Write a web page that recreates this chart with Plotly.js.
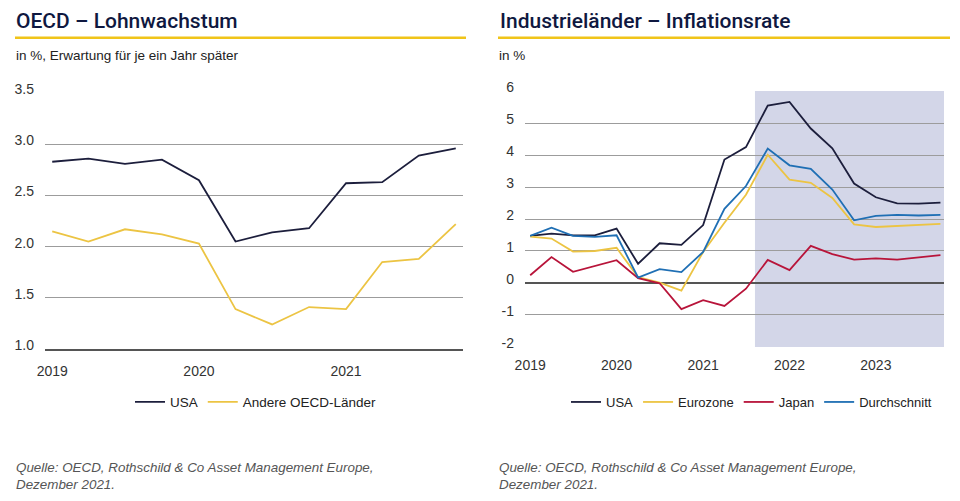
<!DOCTYPE html>
<html>
<head>
<meta charset="utf-8">
<script src="https://cdn.plot.ly/plotly-3.0.1.min.js"></script>
<style>html,body{margin:0;padding:0;background:#fff;}#chart{width:960px;height:501px;}</style>
</head>
<body>
<div id="chart"></div>
<script>
// ---- Left chart: OECD wage growth expectations (quarterly) ----
const wageQuarters = ['2019-01-01','2019-04-01','2019-07-01','2019-10-01',
                      '2020-01-01','2020-04-01','2020-07-01','2020-10-01',
                      '2021-01-01','2021-04-01','2021-07-01','2021-10-01'];
const wageUSA   = [2.83, 2.86, 2.81, 2.85, 2.65, 2.05, 2.14, 2.18, 2.62, 2.63, 2.89, 2.96];
const wageOther = [2.15, 2.05, 2.17, 2.12, 2.03, 1.39, 1.24, 1.41, 1.39, 1.85, 1.88, 2.22];
const wageYearTicks = ['2019-01-01','2020-01-01','2021-01-01'];
const wageYearLabels = ['2019','2020','2021'];

// ---- Right chart: inflation rate (quarterly, incl. projections) ----
const inflQuarters = ['2019-01-01','2019-04-01','2019-07-01','2019-10-01',
                      '2020-01-01','2020-04-01','2020-07-01','2020-10-01',
                      '2021-01-01','2021-04-01','2021-07-01','2021-10-01',
                      '2022-01-01','2022-04-01','2022-07-01','2022-10-01',
                      '2023-01-01','2023-04-01','2023-07-01','2023-10-01'];
const inflUSA   = [1.47, 1.54, 1.49, 1.49, 1.70, 0.60, 1.24, 1.19, 1.81, 3.86, 4.25, 5.55, 5.66, 4.83, 4.21, 3.11, 2.68, 2.49, 2.48, 2.51];
const inflEuro  = [1.45, 1.39, 0.98, 1.00, 1.10, 0.18, 0.01, -0.24, 0.97, 1.88, 2.76, 4.01, 3.23, 3.13, 2.66, 1.83, 1.75, 1.78, 1.81, 1.85];
const inflJapan = [0.24, 0.81, 0.35, 0.53, 0.71, 0.15, -0.01, -0.82, -0.54, -0.72, -0.18, 0.72, 0.40, 1.16, 0.90, 0.73, 0.77, 0.73, 0.80, 0.87];
const inflAvg   = [1.47, 1.73, 1.47, 1.44, 1.49, 0.17, 0.43, 0.34, 0.97, 2.32, 3.03, 4.20, 3.68, 3.57, 2.92, 1.96, 2.10, 2.13, 2.11, 2.13];
const inflYearTicks = ['2019-01-01','2020-01-01','2021-01-01','2022-01-01','2023-01-01'];
const inflYearLabels = ['2019','2020','2021','2022','2023'];
const inflTickVals = [-2, -1, 0, 1, 2, 3, 4, 5, 6];
const inflTickLabels = ['-2', '-1', '0', '1', '2', '3', '4', '5', '6'];
const forecastStart = '2021-08-08';

const NAVY = '#1c1e3c', YELLOW = '#ecc443', RED = '#b8143a', BLUE = '#1f6fb4';
const FONT = 'Liberation Sans, Arial, sans-serif';

const traces = [
  {x: wageQuarters, y: wageUSA, name: 'USA', type: 'scatter', mode: 'lines',
   line: {color: NAVY, width: 1.8}, xaxis: 'x', yaxis: 'y', legend: 'legend'},
  {x: wageQuarters, y: wageOther, name: 'Andere OECD-Länder', type: 'scatter', mode: 'lines',
   line: {color: YELLOW, width: 1.8}, xaxis: 'x', yaxis: 'y', legend: 'legend'},
  {x: inflQuarters, y: inflUSA, name: 'USA', type: 'scatter', mode: 'lines',
   line: {color: NAVY, width: 1.8}, xaxis: 'x2', yaxis: 'y2', legend: 'legend2'},
  {x: inflQuarters, y: inflEuro, name: 'Eurozone', type: 'scatter', mode: 'lines',
   line: {color: YELLOW, width: 1.8}, xaxis: 'x2', yaxis: 'y2', legend: 'legend2'},
  {x: inflQuarters, y: inflJapan, name: 'Japan', type: 'scatter', mode: 'lines',
   line: {color: RED, width: 1.8}, xaxis: 'x2', yaxis: 'y2', legend: 'legend2'},
  {x: inflQuarters, y: inflAvg, name: 'Durchschnitt', type: 'scatter', mode: 'lines',
   line: {color: BLUE, width: 1.8}, xaxis: 'x2', yaxis: 'y2', legend: 'legend2'}
];

const tickFont = {family: FONT, size: 14, color: '#333'};
const legendFont = {family: FONT, size: 13.5, color: '#222'};
const legend2Font = {family: FONT, size: 13, color: '#222'};

const layout = {
  width: 960, height: 501,
  margin: {l: 0, r: 0, t: 0, b: 0},
  paper_bgcolor: '#fff', plot_bgcolor: 'rgba(0,0,0,0)',
  font: {family: FONT, color: '#222'},
  xaxis: {
    domain: [45/960, 463/960], anchor: 'y', type: 'date',
    range: ['2018-12-14', '2021-10-19'],
    tickmode: 'array', tickvals: wageYearTicks, ticktext: wageYearLabels,
    showgrid: false, zeroline: false, showline: true, linecolor: '#555', linewidth: 2,
    ticks: '', tickfont: tickFont, ticklabelstandoff: 8
  },
  yaxis: {
    domain: [(501-349)/501, (501-93)/501], anchor: 'x',
    range: [1.0, 3.502], dtick: 0.5, tick0: 1, tickformat: '.1f',
    showgrid: true, gridcolor: '#9c9c9c', gridwidth: 1, zeroline: false,
    showline: false, ticks: '', tickfont: tickFont, ticklabelstandoff: 10, ticklabelshift: -4
  },
  xaxis2: {
    domain: [525/960, 944/960], anchor: 'y2', type: 'date',
    range: ['2018-12-10', '2023-10-16'],
    tickmode: 'array', tickvals: inflYearTicks, ticktext: inflYearLabels,
    showgrid: false, zeroline: false, showline: false,
    ticks: '', tickfont: tickFont, ticklabelstandoff: 8
  },
  yaxis2: {
    domain: [(501-347)/501, (501-91)/501], anchor: 'x2',
    range: [-2.003, 6.003], tickmode: 'array', tickvals: inflTickVals, ticktext: inflTickLabels,
    showgrid: true, gridcolor: '#9c9c9c', gridwidth: 1,
    zeroline: true, zerolinecolor: '#555', zerolinewidth: 2.5,
    showline: false, ticks: '', tickfont: tickFont, ticklabelstandoff: 10, ticklabelshift: -4
  },
  legend: {
    orientation: 'h', x: 130/960, y: (501-402)/501, xanchor: 'left', yanchor: 'middle',
    font: legendFont, bgcolor: 'rgba(0,0,0,0)'
  },
  legend2: {
    orientation: 'h', x: 566/960, y: (501-402)/501, xanchor: 'left', yanchor: 'middle',
    font: legend2Font, bgcolor: 'rgba(0,0,0,0)'
  },
  shapes: [
    {type: 'rect', xref: 'x2', yref: 'y2', x0: forecastStart, x1: '2023-10-16', y0: -2, y1: 6,
     fillcolor: '#d3d6e8', line: {width: 0}, layer: 'below'},
    {type: 'line', xref: 'paper', yref: 'paper', x0: 15/960, x1: 466/960,
     y0: (501-37.7)/501, y1: (501-37.7)/501, line: {color: '#f0c419', width: 2.5}},
    {type: 'line', xref: 'paper', yref: 'paper', x0: 498/960, x1: 950/960,
     y0: (501-37.7)/501, y1: (501-37.7)/501, line: {color: '#f0c419', width: 2.5}}
  ],
  annotations: [
    {text: 'OECD – Lohnwachstum', xref: 'paper', yref: 'paper', x: 14/960, y: (501-21)/501,
     xanchor: 'left', yanchor: 'middle', showarrow: false,
     font: {family: 'Roboto, ' + FONT, size: 21, weight: 500, color: '#0f1840'}},
    {text: 'Industrieländer – Inflationsrate', xref: 'paper', yref: 'paper', x: 498/960, y: (501-21)/501,
     xanchor: 'left', yanchor: 'middle', showarrow: false,
     font: {family: 'Roboto, ' + FONT, size: 21, weight: 500, color: '#0f1840'}},
    {text: 'in %, Erwartung für je ein Jahr später', xref: 'paper', yref: 'paper', x: 14/960, y: (501-56)/501,
     xanchor: 'left', yanchor: 'middle', showarrow: false,
     font: {family: FONT, size: 13.5, color: '#222'}},
    {text: 'in %', xref: 'paper', yref: 'paper', x: 497/960, y: (501-56)/501,
     xanchor: 'left', yanchor: 'middle', showarrow: false,
     font: {family: FONT, size: 13.5, color: '#222'}},
    {text: '<i>Quelle: OECD, Rothschild &amp; Co Asset Management Europe,<br>Dezember 2021.</i>',
     xref: 'paper', yref: 'paper', x: 14/960, y: (501-476)/501, align: 'left',
     xanchor: 'left', yanchor: 'middle', showarrow: false,
     font: {family: FONT, size: 13.4, color: '#555'}},
    {text: '<i>Quelle: OECD, Rothschild &amp; Co Asset Management Europe,<br>Dezember 2021.</i>',
     xref: 'paper', yref: 'paper', x: 497/960, y: (501-476)/501, align: 'left',
     xanchor: 'left', yanchor: 'middle', showarrow: false,
     font: {family: FONT, size: 13.4, color: '#555'}}
  ]
};

Plotly.newPlot('chart', traces, layout, {staticPlot: true, displayModeBar: false});
</script>
</body>
</html>
